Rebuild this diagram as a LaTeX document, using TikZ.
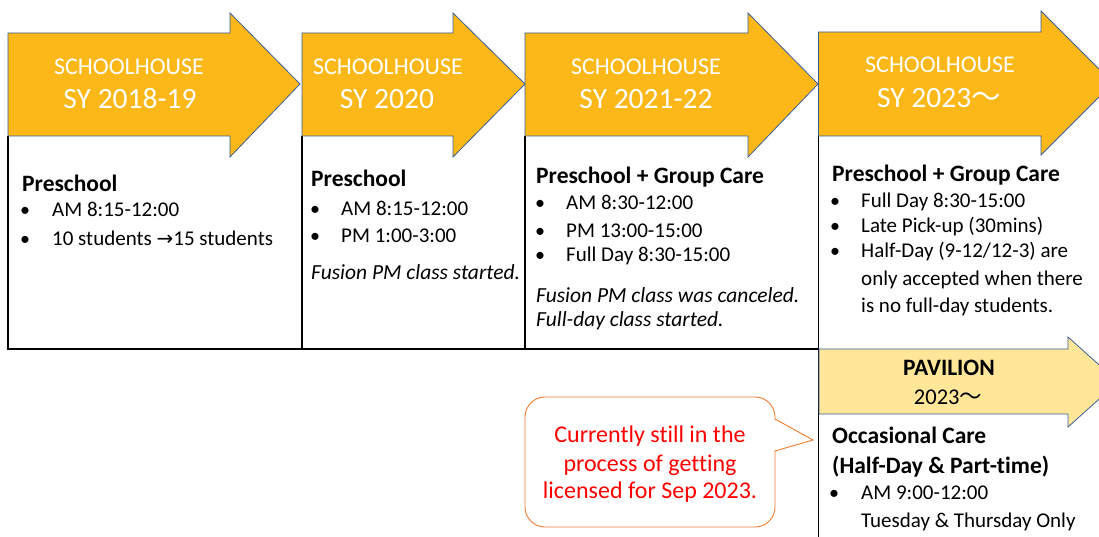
\documentclass[tikz,border=0pt]{standalone}
\usepackage{fontspec}
\setmainfont{Carlito}[Ligatures=CommonOff]
\newfontfamily\cjk{Noto Sans CJK JP}
\newfontfamily\symf{DejaVu Sans}
\definecolor{gold}{HTML}{FBB818}
\definecolor{outl}{HTML}{3A5F9A}
\definecolor{pale}{HTML}{FFE699}
\definecolor{callo}{HTML}{ED7D31}
\definecolor{redtxt}{HTML}{FF0000}
\newcommand{\wave}{{\cjk ～}}
\tikzset{
  hdrarrow/.style={fill=gold, draw=outl, line width=0.8pt, line join=miter},
  pavarrow/.style={fill=pale, draw=outl, line width=0.8pt, line join=miter},
  grid/.style={draw=black, line width=1.2pt},
  hdrtxt/.style={text=white, font=\fontsize{24}{28}\selectfont, anchor=base, inner sep=0pt},
  hdryr/.style={text=white, font=\fontsize{29.5}{34}\selectfont, anchor=base, inner sep=0pt},
  headtxt/.style={font=\bfseries\fontsize{23.5}{27}\selectfont, anchor=base west, inner sep=0pt},
  itemtxt/.style={font=\fontsize{21}{25}\selectfont, anchor=base west, inner sep=0pt},
  bul/.style={font=\fontsize{20}{24}\selectfont, anchor=base, inner sep=0pt},
  notetxt/.style={font=\itshape\fontsize{21.5}{25}\selectfont, anchor=base west, inner sep=0pt},
  pavtxt/.style={font=\fontsize{22.5}{26}\selectfont, anchor=base, inner sep=0pt},
  calltxt/.style={text=redtxt, font=\fontsize{24}{28}\selectfont, anchor=base, inner sep=0pt},
  callbox/.style={draw=callo, line width=0.9pt, fill=white},
}
\begin{document}
\begin{tikzpicture}[x=1pt,y=-1pt]
\useasboundingbox (0,0) rectangle (1099,537);
% table lines
\draw[grid] (8,136) -- (8,349) -- (818,349);
\draw[grid] (302,136) -- (302,349);
\draw[grid] (525,136) -- (525,349);
\draw[grid] (818.5,136) -- (818.5,537);
% header arrows
\draw[hdrarrow] (8,33) -- (230,33) -- (230,13) -- (300,84) -- (230,157) -- (230,136) -- (8,136) -- cycle;
\draw[hdrarrow] (302,33) -- (453,33) -- (453,13) -- (525,84) -- (453,157) -- (453,136) -- (302,136) -- cycle;
\draw[hdrarrow] (525,33) -- (748,33) -- (748,13) -- (818,84) -- (748,157) -- (748,136) -- (525,136) -- cycle;
\draw[hdrarrow] (818.5,32) -- (1041,32) -- (1041,11) -- (1113,83) -- (1041,155) -- (1041,136) -- (818.5,136) -- cycle;
% header texts
\node[hdrtxt] (h1a) at (129,75) {SCHOOLHOUSE};
\node[hdryr]  (h1b) at (130,109) {SY 2018-19};
\node[hdrtxt] (h2a) at (388,75) {SCHOOLHOUSE};
\node[hdryr]  (h2b) at (387,109) {SY 2020};
\node[hdrtxt] (h3a) at (646,75) {SCHOOLHOUSE};
\node[hdryr]  (h3b) at (646,109) {SY 2021-22};
\node[hdrtxt] (h4a) at (940,73) {SCHOOLHOUSE};
\node[hdryr]  (h4b) at (939,108) {SY 2023\wave};
% column 1
\node[headtxt] (c1h) at (22,192) {Preschool};
\node[bul] (c1b1) at (25,217) {•};
\node[itemtxt] (c1i1) at (52,217) {AM 8:15-12:00};
\node[bul] (c1b2) at (25,245) {•};
\node[itemtxt] (c1i2) at (52,245) {10 students {\symf\fontsize{20}{24}\selectfont →}15 students};
% column 2
\node[headtxt] (c2h) at (311,187) {Preschool};
\node[bul] (c2b1) at (315,215) {•};
\node[itemtxt] (c2i1) at (341,215) {AM 8:15-12:00};
\node[bul] (c2b2) at (315,243) {•};
\node[itemtxt] (c2i2) at (341,243) {PM 1:00-3:00};
\node[notetxt] (c2n) at (311,279) {Fusion PM class started.};
% column 3
\node[headtxt] (c3h) at (536,184) {Preschool + Group Care};
\node[bul] (c3b1) at (540,210) {•};
\node[itemtxt] (c3i1) at (566,210) {AM 8:30-12:00};
\node[bul] (c3b2) at (540,237) {•};
\node[itemtxt] (c3i2) at (566,237) {PM 13:00-15:00};
\node[bul] (c3b3) at (540,261) {•};
\node[itemtxt] (c3i3) at (566,261) {Full Day 8:30-15:00};
\node[notetxt] (c3n1) at (536,302) {Fusion PM class was canceled.};
\node[notetxt] (c3n2) at (536,326) {Full-day class started.};
% column 4
\node[headtxt] (c4h) at (832,182) {Preschool + Group Care};
\node[bul] (c4b1) at (835,208) {•};
\node[itemtxt] (c4i1) at (861,208) {Full Day 8:30-15:00};
\node[bul] (c4b2) at (835,233) {•};
\node[itemtxt] (c4i2) at (861,233) {Late Pick-up (30mins)};
\node[bul] (c4b3) at (835,258) {•};
\node[itemtxt] (c4i3) at (861,258) {Half-Day (9-12/12-3) are};
\node[itemtxt] (c4i4) at (861,285) {only accepted when there};
\node[itemtxt] (c4i5) at (861,312) {is no full-day students.};
% pavilion
\draw[pavarrow] (819,349) -- (1068,349) -- (1068,337) -- (1118,382) -- (1068,427) -- (1068,414) -- (819,414) -- cycle;
\node[pavtxt, font=\bfseries\fontsize{23.5}{27}\selectfont] (p1) at (949,375) {PAVILION};
\node[pavtxt] (p2) at (948,404) {2023\wave};
\node[headtxt] (p3) at (832,443) {Occasional Care};
\node[headtxt] (p4) at (832,473) {(Half-Day \& Part-time)};
\node[bul] (p5b) at (834,499) {•};
\node[itemtxt] (p5) at (861,499) {AM 9:00-12:00};
\node[itemtxt] (p6) at (861,527) {Tuesday \& Thursday Only};
% callout
\draw[callbox, rounded corners=20pt] (525,397) rectangle (775,527);
\fill[white] (774,419.6) -- (813,440) -- (774,450.4) -- cycle;
\draw[draw=callo, line width=0.9pt] (775,419) -- (813,440) -- (775,451);
\node[calltxt] (k1) at (650,442) {Currently still in the};
\node[calltxt] (k2) at (650,471) {process of getting};
\node[calltxt] (k3) at (650,498) {licensed for Sep 2023.};
\end{tikzpicture}
\end{document}
